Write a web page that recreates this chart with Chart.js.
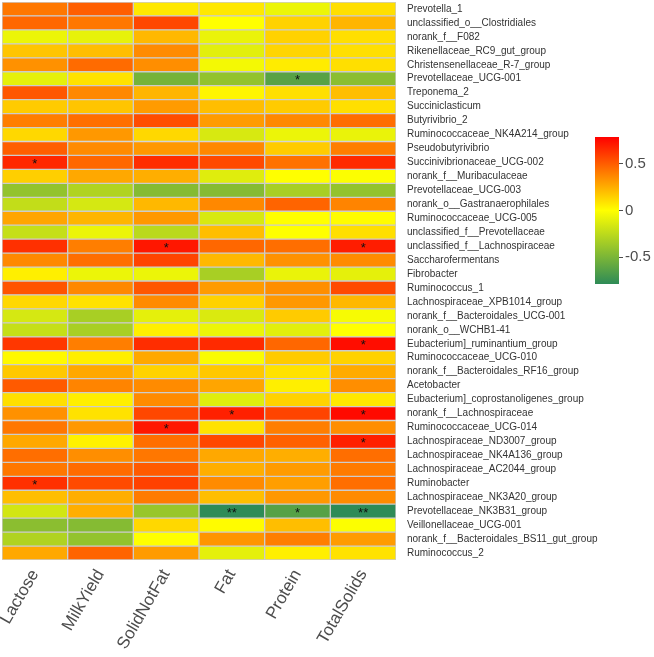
<!DOCTYPE html>
<html>
<head>
<meta charset="utf-8">
<script src="https://cdn.jsdelivr.net/npm/chart.js@4.4.1/dist/chart.umd.min.js"></script>
<style>
  html, body { margin: 0; padding: 0; background: #fff; }
  #wrap { position: relative; width: 654px; height: 657px; }
  #heat { position: absolute; left: 0; top: 0; }
  #scale { position: absolute; left: 590px; top: 130px; }
</style>
</head>
<body>
<div id="wrap">
  <canvas id="heat" width="654" height="657"></canvas>
  <canvas id="scale" width="64" height="165"></canvas>
</div>
<script>
const taxa = [
  'Prevotella_1', 'unclassified_o__Clostridiales', 'norank_f__F082', 'Rikenellaceae_RC9_gut_group',
  'Christensenellaceae_R-7_group', 'Prevotellaceae_UCG-001', 'Treponema_2', 'Succiniclasticum',
  'Butyrivibrio_2', 'Ruminococcaceae_NK4A214_group', 'Pseudobutyrivibrio', 'Succinivibrionaceae_UCG-002',
  'norank_f__Muribaculaceae', 'Prevotellaceae_UCG-003', 'norank_o__Gastranaerophilales', 'Ruminococcaceae_UCG-005',
  'unclassified_f__Prevotellaceae', 'unclassified_f__Lachnospiraceae', 'Saccharofermentans', 'Fibrobacter',
  'Ruminococcus_1', 'Lachnospiraceae_XPB1014_group', 'norank_f__Bacteroidales_UCG-001', 'norank_o__WCHB1-41',
  'Eubacterium]_ruminantium_group', 'Ruminococcaceae_UCG-010', 'norank_f__Bacteroidales_RF16_group', 'Acetobacter',
  'Eubacterium]_coprostanoligenes_group', 'norank_f__Lachnospiraceae', 'Ruminococcaceae_UCG-014', 'Lachnospiraceae_ND3007_group',
  'Lachnospiraceae_NK4A136_group', 'Lachnospiraceae_AC2044_group', 'Ruminobacter', 'Lachnospiraceae_NK3A20_group',
  'Prevotellaceae_NK3B31_group', 'Veillonellaceae_UCG-001', 'norank_f__Bacteroidales_BS11_gut_group', 'Ruminococcus_2'
];

const traits = ['Lactose', 'MilkYield', 'SolidNotFat', 'Fat', 'Protein', 'TotalSolids'];

// correlation values, one array per trait, in taxa order
const lactose = [0.42, 0.47, -0.07, 0.18, 0.34, -0.10, 0.52, 0.16, 0.40, 0.12,
  0.50, 0.67, 0.15, -0.41, -0.23, 0.28, -0.22, 0.64, 0.37, 0.05,
  0.53, 0.12, -0.16, -0.22, 0.62, 0.02, 0.17, 0.51, 0.10, 0.34,
  0.42, 0.27, 0.45, 0.42, 0.64, 0.20, -0.17, -0.44, -0.30, 0.27];
const milkYield = [0.50, 0.42, -0.09, 0.20, 0.46, 0.09, 0.37, 0.18, 0.45, 0.32,
  0.36, 0.47, 0.27, -0.30, -0.16, 0.23, -0.07, 0.40, 0.45, -0.07,
  0.37, 0.09, -0.33, -0.33, 0.40, 0.05, 0.27, 0.38, 0.05, 0.09,
  0.32, 0.04, 0.35, 0.46, 0.56, 0.25, 0.25, -0.46, -0.41, 0.48];
const solidNotFat = [0.07, 0.57, 0.22, 0.36, 0.35, -0.52, 0.23, 0.31, 0.55, 0.12,
  0.32, 0.65, 0.25, -0.46, 0.22, 0.32, -0.26, 0.72, 0.58, -0.07,
  0.52, 0.36, -0.10, 0.05, 0.65, 0.27, 0.14, 0.36, 0.36, 0.57,
  0.72, 0.45, 0.42, 0.51, 0.59, 0.41, -0.39, 0.12, 0.00, 0.31];
const fat = [0.07, 0.00, -0.08, -0.11, -0.04, -0.41, 0.03, 0.20, 0.31, -0.15,
  0.37, 0.56, -0.12, -0.46, 0.37, -0.15, 0.20, 0.47, 0.22, -0.33,
  0.31, 0.14, -0.14, -0.07, 0.66, -0.02, 0.17, 0.28, -0.12, 0.69,
  0.09, 0.57, 0.27, 0.25, 0.36, 0.20, -0.79, 0.01, 0.33, -0.10];
const protein = [-0.07, 0.14, 0.14, 0.13, 0.06, -0.63, 0.10, 0.16, 0.37, -0.07,
  0.16, 0.44, 0.00, -0.33, 0.48, 0.00, 0.00, 0.45, 0.34, -0.08,
  0.35, 0.32, 0.16, -0.11, 0.47, 0.16, 0.09, 0.05, 0.14, 0.58,
  0.40, 0.49, 0.25, 0.31, 0.30, 0.32, -0.64, 0.20, 0.40, 0.05];
const totalSolids = [0.10, 0.23, 0.10, 0.10, 0.10, -0.44, 0.20, 0.10, 0.45, -0.08,
  0.40, 0.66, -0.01, -0.41, 0.38, 0.01, 0.10, 0.70, 0.36, -0.10,
  0.56, 0.22, -0.03, 0.00, 0.75, 0.14, 0.26, 0.35, 0.07, 0.76,
  0.35, 0.69, 0.45, 0.41, 0.45, 0.36, -0.79, -0.01, 0.31, 0.09];

const columns = [lactose, milkYield, solidNotFat, fat, protein, totalSolids];

// significance marks: [taxon, trait, mark]
const marks = [
  ['Prevotellaceae_UCG-001', 'Protein', '*'],
  ['Succinivibrionaceae_UCG-002', 'Lactose', '*'],
  ['unclassified_f__Lachnospiraceae', 'SolidNotFat', '*'],
  ['unclassified_f__Lachnospiraceae', 'TotalSolids', '*'],
  ['Eubacterium]_ruminantium_group', 'TotalSolids', '*'],
  ['norank_f__Lachnospiraceae', 'Fat', '*'],
  ['norank_f__Lachnospiraceae', 'TotalSolids', '*'],
  ['Ruminococcaceae_UCG-014', 'SolidNotFat', '*'],
  ['Lachnospiraceae_ND3007_group', 'TotalSolids', '*'],
  ['Ruminobacter', 'Lactose', '*'],
  ['Prevotellaceae_NK3B31_group', 'Fat', '**'],
  ['Prevotellaceae_NK3B31_group', 'Protein', '*'],
  ['Prevotellaceae_NK3B31_group', 'TotalSolids', '**']
];

const colorLimit = 0.79;

function cellColor(v) {
  let t = Math.min(Math.abs(v) / colorLimit, 1);
  if (v >= 0) {
    return 'rgb(255,' + Math.round(255 * (1 - t)) + ',0)';
  }
  // yellow -> seagreen
  const r = Math.round(255 + (46 - 255) * t);
  const g = Math.round(255 + (139 - 255) * t);
  const b = Math.round(87 * t);
  return 'rgb(' + r + ',' + g + ',' + b + ')';
}

function noPadding(scale) {
  scale.paddingTop = 0;
  scale.paddingBottom = 0;
  scale.paddingLeft = 0;
  scale.paddingRight = 0;
}

const markPlugin = {
  id: 'marks',
  afterDatasetsDraw(chart) {
    const ctx = chart.ctx;
    ctx.save();
    ctx.fillStyle = '#111';
    ctx.font = '13px "Liberation Sans", Arial, sans-serif';
    ctx.textAlign = 'center';
    ctx.textBaseline = 'middle';
    marks.forEach(m => {
      const row = taxa.indexOf(m[0]);
      const col = traits.indexOf(m[1]);
      const el = chart.getDatasetMeta(col).data[row];
      if (!el) return;
      const p = el.getCenterPoint();
      ctx.fillText(m[2], p.x, p.y + 2);
    });
    ctx.restore();
  }
};

new Chart(document.getElementById('heat'), {
  type: 'bar',
  data: {
    labels: taxa,
    datasets: columns.map((vals, c) => ({
      label: traits[c],
      data: vals.map(() => [c, c + 1]),
      backgroundColor: vals.map(cellColor),
      borderColor: '#cccccc',
      borderWidth: 1,
      borderSkipped: false,
      grouped: false,
      categoryPercentage: 1,
      barPercentage: 1
    }))
  },
  options: {
    indexAxis: 'y',
    responsive: false,
    animation: false,
    layout: { padding: { left: 2, top: 2, right: 0, bottom: 0 } },
    plugins: { legend: { display: false }, tooltip: { enabled: false } },
    scales: {
      x: {
        type: 'linear',
        min: 0,
        max: 6,
        grid: { display: false, drawTicks: false },
        border: { display: false },
        afterBuildTicks: scale => { scale.ticks = traits.map((t, i) => ({ value: i + 0.5 })); },
        afterFit: scale => { scale.height = 97; noPadding(scale); },
        ticks: {
          autoSkip: false,
          minRotation: 60,
          maxRotation: 60,
          padding: 6,
          color: '#4d4d4d',
          font: { family: '"Liberation Sans", Arial, sans-serif', size: 17 },
          callback: (v, i) => traits[i]
        }
      },
      y: {
        type: 'category',
        position: 'right',
        grid: { display: false, drawTicks: false },
        border: { display: false },
        afterFit: scale => { scale.width = 258; noPadding(scale); },
        ticks: {
          autoSkip: false,
          padding: 11,
          color: '#333333',
          font: { family: '"Liberation Sans", Arial, sans-serif', size: 10 }
        }
      }
    }
  },
  plugins: [markPlugin]
});

// colour key
const keyTicks = [-0.5, 0, 0.5];
new Chart(document.getElementById('scale'), {
  type: 'bar',
  data: {
    labels: [''],
    datasets: [{
      data: [[-colorLimit, colorLimit]],
      borderWidth: 0,
      categoryPercentage: 1,
      barPercentage: 1,
      backgroundColor: ctx => {
        const area = ctx.chart.chartArea;
        if (!area) return '#ffff00';
        const g = ctx.chart.ctx.createLinearGradient(0, area.bottom, 0, area.top);
        g.addColorStop(0, cellColor(-colorLimit));
        g.addColorStop(0.5, cellColor(0));
        g.addColorStop(1, cellColor(colorLimit));
        return g;
      }
    }]
  },
  options: {
    responsive: false,
    animation: false,
    layout: { padding: { left: 5, top: 7, right: 0, bottom: 11 } },
    plugins: { legend: { display: false }, tooltip: { enabled: false } },
    scales: {
      x: { display: false },
      y: {
        position: 'right',
        min: -colorLimit,
        max: colorLimit,
        border: { display: false },
        grid: { drawOnChartArea: false, drawTicks: true, tickLength: 4, color: '#4d4d4d' },
        afterBuildTicks: scale => { scale.ticks = keyTicks.map(v => ({ value: v })); },
        afterFit: scale => { scale.width = 35; noPadding(scale); },
        ticks: {
          padding: 2,
          color: '#4d4d4d',
          font: { family: '"Liberation Sans", Arial, sans-serif', size: 15 },
          callback: v => String(v)
        }
      }
    }
  }
});
</script>
</body>
</html>
